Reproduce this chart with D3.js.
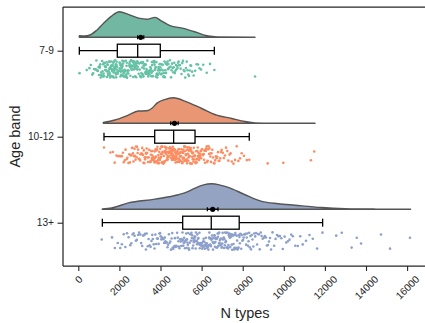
<!DOCTYPE html>
<html>
<head>
<meta charset="utf-8">
<script src="https://cdn.jsdelivr.net/npm/d3@7"></script>
<style>
  html, body { margin: 0; padding: 0; background: #fff; }
  svg text { font-family: "Liberation Sans", Arial, sans-serif; fill: #262626; }
</style>
</head>
<body>
<svg id="chart" width="425" height="323"></svg>
<script>
// --- datos ---
const categories = ["7-9", "10-12", "13+"];

const values79 = [
  60, 410,
  540, 610, 680, 720, 770, 810, 850, 880, 920, 950, 990,
  1010, 1030, 1050, 1070, 1090, 1110, 1120, 1140, 1160, 1180, 1200, 1210, 1230, 1250, 1260,
  1280, 1300, 1310, 1330, 1340, 1360, 1370, 1390, 1400, 1420, 1430, 1450, 1460, 1480, 1490,
  1505, 1515, 1522, 1534, 1541, 1553, 1562, 1570, 1584, 1593, 1601, 1612, 1620, 1633, 1641,
  1652, 1660, 1671, 1683, 1690, 1702, 1715, 1722, 1731, 1744, 1752, 1763, 1771, 1782, 1794,
  1803, 1815, 1824, 1836, 1845, 1858, 1866, 1875, 1889, 1901, 1923, 1950, 1982,
  2008, 2017, 2025, 2036, 2044, 2051, 2063, 2072, 2080, 2094, 2103, 2111, 2124, 2132, 2145,
  2153, 2161, 2174, 2182, 2196, 2205, 2213, 2226, 2234, 2247, 2255, 2268, 2276, 2289, 2297,
  2310, 2322, 2335, 2347, 2359, 2372, 2384, 2398, 2413, 2429, 2446, 2468, 2489,
  2507, 2521, 2533, 2546, 2558, 2569, 2582, 2594, 2607, 2619, 2632, 2644, 2657, 2669, 2681,
  2694, 2706, 2719, 2731, 2744, 2756, 2769, 2781, 2794, 2806, 2819, 2831, 2844, 2856, 2869,
  2881, 2894, 2915, 2938, 2961, 2987,
  3012, 3027, 3041, 3056, 3070, 3085, 3099, 3114, 3128, 3143, 3157, 3172, 3186, 3201, 3215,
  3230, 3244, 3259, 3273, 3288, 3302, 3317, 3331, 3346, 3360, 3375, 3389, 3404, 3418, 3433,
  3447, 3462, 3486,
  3508, 3522, 3537, 3551, 3566, 3580, 3595, 3609, 3624, 3638, 3653, 3667, 3682, 3696, 3711,
  3725, 3740, 3754, 3769, 3783, 3798, 3812, 3827, 3841, 3856, 3870, 3885, 3899, 3914, 3928,
  3943, 3957, 3972, 3991,
  4011, 4030, 4048, 4067, 4085, 4104, 4122, 4141, 4159, 4178, 4196, 4215, 4233, 4252, 4270,
  4289, 4307, 4326, 4344, 4363, 4381, 4400, 4428, 4455, 4487,
  4512, 4538, 4565, 4591, 4618, 4644, 4671, 4697, 4724, 4750, 4777, 4803, 4830, 4856, 4883,
  4909, 4942, 4978,
  5021, 5058, 5094, 5131, 5167, 5204, 5240, 5277, 5313, 5350, 5386, 5423, 5459, 5490,
  5540, 5612, 5684, 5756, 5828, 5900, 5972,
  6080, 6250, 6410, 6620,
  8600
];

const values1012 = [
  1250,
  1560, 1680, 1770, 1860, 1950,
  2030, 2080, 2120, 2170, 2210, 2260, 2300, 2350, 2390, 2440, 2480,
  2510, 2535, 2560, 2585, 2610, 2635, 2660, 2685, 2710, 2735, 2760, 2785, 2810, 2835, 2860,
  2885, 2910, 2940, 2975,
  3010, 3030, 3050, 3070, 3090, 3110, 3130, 3150, 3170, 3190, 3210, 3230, 3250, 3270, 3290,
  3310, 3330, 3350, 3370, 3390, 3420, 3450, 3480,
  3505, 3520, 3535, 3550, 3565, 3580, 3595, 3610, 3625, 3640, 3655, 3670, 3685, 3700, 3715,
  3730, 3745, 3760, 3775, 3790, 3805, 3820, 3835, 3850, 3865, 3880, 3895, 3910, 3925, 3940,
  3955, 3970, 3990,
  4005, 4017, 4029, 4041, 4053, 4065, 4077, 4089, 4101, 4113, 4125, 4137, 4149, 4161, 4173,
  4185, 4197, 4209, 4221, 4233, 4245, 4257, 4269, 4281, 4293, 4305, 4317, 4329, 4341, 4353,
  4365, 4377, 4389, 4401, 4413, 4425, 4437, 4449, 4461, 4473, 4488,
  4503, 4514, 4525, 4536, 4547, 4558, 4569, 4580, 4591, 4602, 4613, 4624, 4635, 4646, 4657,
  4668, 4679, 4690, 4701, 4712, 4723, 4734, 4745, 4756, 4767, 4778, 4789, 4800, 4811, 4822,
  4833, 4844, 4855, 4866, 4877, 4888, 4899, 4910, 4921, 4932, 4943, 4954, 4968, 4985,
  5006, 5018, 5031, 5043, 5056, 5068, 5081, 5093, 5106, 5118, 5131, 5143, 5156, 5168, 5181,
  5193, 5206, 5218, 5231, 5243, 5256, 5268, 5281, 5293, 5306, 5318, 5331, 5343, 5356, 5368,
  5381, 5393, 5406, 5418, 5431, 5443, 5456, 5470, 5488,
  5508, 5524, 5540, 5556, 5572, 5588, 5604, 5620, 5636, 5652, 5668, 5684, 5700, 5716, 5732,
  5748, 5764, 5780, 5796, 5812, 5828, 5844, 5860, 5876, 5892, 5908, 5924, 5940, 5958, 5980,
  6010, 6032, 6054, 6076, 6098, 6120, 6142, 6164, 6186, 6208, 6230, 6252, 6274, 6296, 6318,
  6340, 6362, 6384, 6406, 6428, 6455, 6484,
  6520, 6555, 6590, 6625, 6660, 6695, 6730, 6765, 6800, 6835, 6870, 6905, 6940, 6975,
  7030, 7080, 7140, 7190, 7250, 7300, 7360, 7410, 7470,
  7550, 7630, 7710, 7790, 7870, 7950,
  8060, 8200, 8320,
  9215, 9975, 11320, 11480
];

const values13 = [
  1140,
  1640, 1780, 1920,
  2040, 2120, 2210, 2290, 2370, 2450,
  2530, 2580, 2640, 2690, 2740, 2800, 2850, 2910, 2960,
  3020, 3060, 3110, 3150, 3200, 3240, 3290, 3330, 3380, 3420, 3470,
  3520, 3560, 3600, 3630, 3670, 3710, 3750, 3790, 3830, 3870, 3910, 3950, 3980,
  4010, 4040, 4080, 4110, 4140, 4180, 4210, 4240, 4270, 4310, 4340, 4370, 4410, 4440, 4480,
  4510, 4540, 4570, 4590, 4620, 4650, 4680, 4700, 4730, 4760, 4790, 4810, 4840, 4870, 4900,
  4920, 4950, 4980,
  5010, 5030, 5050, 5070, 5090, 5110, 5130, 5150, 5170, 5190, 5210, 5230, 5250, 5270, 5290,
  5310, 5330, 5350, 5370, 5390, 5420, 5450, 5480,
  5505, 5522, 5539, 5556, 5573, 5590, 5607, 5624, 5641, 5658, 5675, 5692, 5709, 5726, 5743,
  5760, 5777, 5794, 5811, 5828, 5845, 5862, 5879, 5896, 5913, 5930, 5947, 5964, 5985,
  6005, 6020, 6036, 6051, 6067, 6082, 6098, 6113, 6129, 6144, 6160, 6175, 6191, 6206, 6222,
  6237, 6253, 6268, 6284, 6299, 6315, 6330, 6346, 6361, 6377, 6392, 6408, 6423, 6439, 6454,
  6472, 6490,
  6508, 6524, 6540, 6556, 6572, 6588, 6604, 6620, 6636, 6652, 6668, 6684, 6700, 6716, 6732,
  6748, 6764, 6780, 6796, 6812, 6828, 6844, 6860, 6876, 6892, 6908, 6924, 6940, 6956, 6972,
  6990,
  7009, 7026, 7044, 7061, 7079, 7096, 7114, 7131, 7149, 7166, 7184, 7201, 7219, 7236, 7254,
  7271, 7289, 7306, 7324, 7341, 7359, 7376, 7394, 7411, 7429, 7446, 7465, 7487,
  7510, 7532, 7554, 7576, 7598, 7620, 7642, 7664, 7686, 7708, 7730, 7752, 7774, 7796, 7818,
  7840, 7862, 7884, 7906, 7928, 7955, 7984,
  8015, 8045, 8075, 8105, 8135, 8165, 8195, 8225, 8255, 8285, 8315, 8345, 8375, 8405, 8440, 8475,
  8520, 8560, 8610, 8650, 8700, 8740, 8790, 8830, 8880, 8920, 8970,
  9030, 9080, 9130, 9180, 9230, 9280, 9330, 9380, 9450,
  9530, 9600, 9670, 9740, 9810, 9880, 9950,
  10040, 10120, 10200, 10280, 10360, 10440,
  10560, 10680, 10800, 10920,
  11080, 11250, 11410,
  11620, 11880,
  12550, 12820, 13300, 13550, 13760, 14730, 15170, 16140
];

// densidad relativa de cada medio violín [valor, densidad]
const density79 = [
  [50, 0.06], [300, 0.05], [570, 0.09], [900, 0.28], [1220, 0.54], [1600, 0.82], [2000, 1.0],
  [2430, 0.9], [3000, 0.74], [3330, 0.71], [3730, 0.78], [4060, 0.63], [4460, 0.46],
  [5110, 0.35], [5760, 0.19], [6200, 0.07], [6570, 0.03], [6900, 0.01], [8600, 0.004]
];
const density1012 = [
  [1217, 0.03], [1786, 0.13], [2433, 0.32], [2920, 0.48], [3329, 0.49], [3600, 0.6],
  [3815, 0.78], [4200, 0.93], [4623, 1.0], [5275, 0.84], [6005, 0.58], [6735, 0.32],
  [7465, 0.19], [8112, 0.07], [8600, 0.015], [9500, 0.005], [11520, 0.002]
];
const density13 = [
  [1168, 0.01], [1625, 0.05], [2433, 0.25], [3733, 0.4], [4866, 0.57], [5300, 0.68],
  [5679, 0.83], [6100, 0.96], [6491, 1.0], [6900, 0.95], [7300, 0.86], [8112, 0.57],
  [8925, 0.31], [9733, 0.22], [10545, 0.16], [11844, 0.07], [12977, 0.027], [14500, 0.008],
  [16170, 0.002]
];

// estadísticos de caja: [bigote inf, Q1, mediana, Q3, bigote sup]
const boxStats = [
  [50, 1898, 2890, 3990, 6620],
  [1250, 3718, 4640, 5680, 8320],
  [1170, 5080, 6470, 7830, 11890]
];
// media y semiancho del intervalo
const means = [3036, 4680, 6540];
const meanErr = [150, 180, 260];

const xTicks = [0, 2000, 4000, 6000, 8000, 10000, 12000, 14000, 16000];

const groupValues = [values79, values1012, values13];
const groupDensity = [density79, density1012, density13];

// --- estilo ---
const pointColors = ["#66c2a5", "#fc8d62", "#8da0cb"];
const violinColors = ["#71b7a1", "#e99675", "#95a3c3"];

const frame = { left: 63, top: 7, bottom: 266, right: 425 };

const svg = d3.select("#chart");

const x = d3.scaleLinear().domain([0, 16000]).range([78.3, 407.1]);
const y = d3.scalePoint().domain(categories).range([50.7, 222.7]);

const violinH = 25.5;
const violinOff = -13.4;
const boxHalf = 6.5;

function jit(i, g) {
  const s = Math.sin((i + 1) * 12.9898 + (g + 1) * 78.233) * 43758.5453;
  return s - Math.floor(s);
}

categories.forEach((cat, g) => {
  const cy = y(cat);
  const base = cy + violinOff;
  const dens = groupDensity[g];

  // medio violín
  const area = d3.area()
    .x(d => x(d[0]))
    .y0(base)
    .y1(d => base - d[1] * violinH)
    .curve(d3.curveMonotoneX);

  svg.append("path")
    .datum(dens)
    .attr("d", area)
    .attr("fill", violinColors[g])
    .attr("stroke", "#555")
    .attr("stroke-width", 1.4)
    .attr("stroke-linejoin", "round");

  // lluvia de puntos
  svg.append("g")
    .selectAll("circle")
    .data(groupValues[g])
    .join("circle")
    .attr("cx", d => x(d))
    .attr("cy", (d, i) => cy + 9.5 + jit(i, g) * 17.5)
    .attr("r", 1.3)
    .attr("fill", pointColors[g]);

  // caja
  const [w0, q1, med, q3, w1] = boxStats[g];
  const bx = svg.append("g").attr("stroke", "#000").attr("stroke-width", 1.3);
  bx.append("line").attr("x1", x(w0)).attr("x2", x(q1)).attr("y1", cy).attr("y2", cy);
  bx.append("line").attr("x1", x(q3)).attr("x2", x(w1)).attr("y1", cy).attr("y2", cy);
  bx.append("line").attr("x1", x(w0)).attr("x2", x(w0)).attr("y1", cy - 4).attr("y2", cy + 4);
  bx.append("line").attr("x1", x(w1)).attr("x2", x(w1)).attr("y1", cy - 4).attr("y2", cy + 4);
  bx.append("rect")
    .attr("x", x(q1)).attr("y", cy - boxHalf)
    .attr("width", x(q3) - x(q1)).attr("height", boxHalf * 2)
    .attr("fill", "#fff");
  bx.append("line").attr("x1", x(med)).attr("x2", x(med)).attr("y1", cy - boxHalf).attr("y2", cy + boxHalf);

  // media con barra de error
  const m = means[g], e = meanErr[g];
  const mg = svg.append("g").attr("stroke", "#000").attr("stroke-width", 1.2);
  mg.append("line").attr("x1", x(m - e)).attr("x2", x(m + e)).attr("y1", base).attr("y2", base);
  mg.append("line").attr("x1", x(m - e)).attr("x2", x(m - e)).attr("y1", base - 2).attr("y2", base + 2);
  mg.append("line").attr("x1", x(m + e)).attr("x2", x(m + e)).attr("y1", base - 2).attr("y2", base + 2);
  svg.append("circle").attr("cx", x(m)).attr("cy", base).attr("r", 2.6).attr("fill", "#000");
});

// --- ejes ---
const spine = svg.append("g").attr("stroke", "#262626").attr("stroke-width", 1.25).attr("fill", "none");
spine.append("line").attr("x1", frame.left).attr("x2", frame.right).attr("y1", frame.top).attr("y2", frame.top);
spine.append("line").attr("x1", frame.left).attr("x2", frame.right).attr("y1", frame.bottom).attr("y2", frame.bottom);
spine.append("line").attr("x1", frame.left).attr("x2", frame.left).attr("y1", frame.top).attr("y2", frame.bottom);

const fs = 10.2;

const xAxis = svg.append("g")
  .attr("transform", `translate(0,${frame.bottom})`)
  .call(d3.axisBottom(x).tickValues(xTicks).tickSize(5).tickFormat(d3.format("d")));
xAxis.select(".domain").remove();
xAxis.selectAll(".tick line").attr("stroke", "#262626").attr("stroke-width", 1.1);
xAxis.selectAll(".tick text")
  .attr("font-size", fs)
  .attr("fill", "#262626")
  .attr("text-anchor", "middle")
  .attr("dy", null)
  .attr("y", 0)
  .attr("dominant-baseline", "central")
  .each(function () {
    const L = this.getComputedTextLength();
    const h = 0.72 * fs;
    const box = (L + h) / Math.SQRT2;
    d3.select(this).attr("transform", `translate(0,${9 + box / 2}) rotate(-45)`);
  });

const yAxis = svg.append("g")
  .attr("transform", `translate(${frame.left},0)`)
  .call(d3.axisLeft(y).tickSize(5.5).tickPadding(3.5));
yAxis.select(".domain").remove();
yAxis.selectAll(".tick line").attr("stroke", "#262626").attr("stroke-width", 1.1);
yAxis.selectAll(".tick text").attr("font-size", fs).attr("fill", "#262626");

// títulos
svg.append("text")
  .attr("x", 245).attr("y", 318)
  .attr("text-anchor", "middle")
  .attr("font-size", 14.5)
  .text("N types");

svg.append("text")
  .attr("transform", "translate(19.5,136.5) rotate(-90)")
  .attr("text-anchor", "middle")
  .attr("font-size", 14.5)
  .text("Age band");
</script>
</body>
</html>
